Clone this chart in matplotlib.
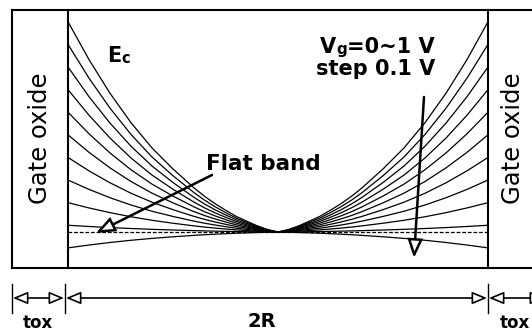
import numpy as np
import matplotlib
matplotlib.use("Agg")
import matplotlib.pyplot as plt
from matplotlib.patches import FancyArrowPatch

# ---------------- data ----------------
vg_values = [1.0, 0.9, 0.8, 0.7, 0.6, 0.5, 0.4, 0.3, 0.2, 0.1, 0.0]
# conduction band edge at the Si / oxide interface (arb. energy units, flat band = 0)
ec_wall = [0.93, 0.83, 0.73, 0.63, 0.53, 0.43, 0.33, 0.23, 0.13, 0.03, -0.07]
# normalised radial positions r/R (half profile, mirrored) and normalised band shape
r_half = [0.0, 0.05, 0.1, 0.15, 0.2, 0.25, 0.3, 0.35, 0.4, 0.45, 0.5,
          0.55, 0.6, 0.65, 0.7, 0.75, 0.8, 0.85, 0.9, 0.95, 1.0]
shape_half = [0.0, 0.012, 0.03, 0.052, 0.075, 0.104, 0.135, 0.17, 0.21, 0.255, 0.30,
              0.35, 0.40, 0.46, 0.52, 0.59, 0.66, 0.74, 0.82, 0.91, 1.0]
flat_band = 0.0

plt.rcParams['font.family'] = ['DejaVu Sans']
plt.rcParams['mathtext.fontset'] = 'dejavusans'

fig = plt.figure(figsize=(5.32, 3.32), dpi=100)

# curve axes (silicon region)
ax = fig.add_axes([68/532, 64/332, 420/532, 258/332])
ax.set_xlim(-1, 1)
ax.set_ylim(-0.159, 0.982)
ax.axis('off')

r_pos = np.concatenate([-np.array(r_half[:0:-1]), np.array(r_half)])
prof = np.concatenate([np.array(shape_half[:0:-1]), np.array(shape_half)])
for ew in ec_wall:
    ax.plot(r_pos, flat_band + (ew - flat_band) * prof, color='black', lw=0.9,
            solid_joinstyle='round')
ax.plot([-1, 1], [flat_band, flat_band], color='black', lw=0.9,
        linestyle=(0, (3, 1.5)))

# overlay axes in pixel coordinates for frame & annotations
ov = fig.add_axes([0, 0, 1, 1])
ov.set_xlim(0, 532)
ov.set_ylim(332, 0)
ov.axis('off')
ov.set_zorder(3)

lw_frame = 1.5
ov.plot([12, 532], [10, 10], color='black', lw=lw_frame)
ov.plot([12, 532], [268, 268], color='black', lw=lw_frame)
ov.plot([12, 12], [10, 268], color='black', lw=lw_frame)
ov.plot([68, 68], [10, 268], color='black', lw=lw_frame)
ov.plot([488, 488], [10, 268], color='black', lw=lw_frame)

# texts
ov.text(40, 138, 'Gate oxide', rotation=90, ha='center', va='center',
        fontsize=17.5)
ov.text(513, 138, 'Gate oxide', rotation=90, ha='center', va='center',
        fontsize=17.5)

def chain(x, y, parts):
    """parts: list of (string, fontsize); drawn left to right on one baseline."""
    t = ov.text(x, y, parts[0][0], ha='left', va='bottom',
                fontsize=parts[0][1], fontweight='bold')
    for s, fs in parts[1:]:
        t = ov.annotate(s, xy=(1, 0), xycoords=t, ha='left', va='bottom',
                        fontsize=fs, fontweight='bold')
    return t

chain(107, 66, [('E', 15), ('c', 10.5)])
chain(320, 57, [('V', 15), ('g', 11), ('=0~1 V', 15)])
ov.text(316, 75, 'step 0.1 V', ha='left', va='baseline', fontsize=15,
        fontweight='bold')
ov.text(206, 170, 'Flat band', ha='left', va='baseline', fontsize=15.5,
        fontweight='bold')
ov.text(262, 327, '2R', ha='center', va='baseline', fontsize=14,
        fontweight='bold')
ov.text(38, 328, 'tox', ha='center', va='baseline', fontsize=12,
        fontweight='bold')
ov.text(515, 328, 'tox', ha='center', va='baseline', fontsize=12,
        fontweight='bold')

# pointer arrows
def pointer(p0, p1):
    a = FancyArrowPatch(p0, p1, arrowstyle='-|>,head_length=0.55,head_width=0.22',
                        mutation_scale=20, lw=1.8, color='black',
                        fc='white', ec='black', shrinkA=0, shrinkB=0,
                        joinstyle='miter')
    ov.add_patch(a)

pointer((212, 175), (96, 233))
pointer((424, 97), (414, 258))

# dimension line
for xt in [12, 65, 488]:
    ov.plot([xt, xt], [284, 313], color='black', lw=1.0)

def dim(x0, x1):
    a = FancyArrowPatch((x0, 298), (x1, 298),
                        arrowstyle='<|-|>,head_length=0.6,head_width=0.25',
                        mutation_scale=15, lw=1.2, fc='white', ec='black',
                        shrinkA=0, shrinkB=0)
    ov.add_patch(a)

dim(13, 64)
dim(66, 487)
dim(489, 545)

fig.savefig('out.png', dpi=100)
